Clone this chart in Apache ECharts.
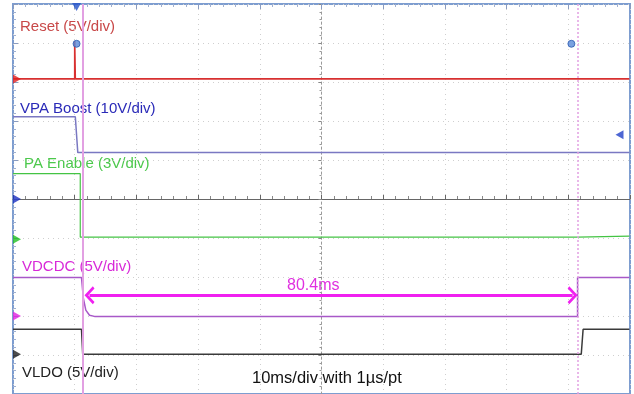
<!DOCTYPE html>
<html><head><meta charset="utf-8">
<script src="https://cdn.jsdelivr.net/npm/echarts@6/dist/echarts.min.js"></script>
<style>html,body{margin:0;padding:0;background:#fff}#c{width:634px;height:394px}</style>
</head><body><div id="c"></div>
<script>
// time in ms (relative to screen centre), amplitude in divisions
const reset   = [[-50,3.08],[-40.0,3.08],[-40.0,4.05],[-39.9,4.05],[-39.9,3.08],[49.9,3.08]];
const vpa     = [[-50,2.11],[-39.9,2.11],[-39.5,1.19],[49.9,1.19]];
const paEn    = [[-50,0.65],[-39.1,0.65],[-39.1,-0.98],[41.5,-0.98],[41.6,-0.95],[49.9,-0.95]];
const vdcdc   = [[-50,-2.01],[-38.9,-2.01],[-38.6,-2.54],[-38.2,-2.85],[-37.6,-2.98],[-36.8,-3.01],[41.5,-3.01],[41.5,-2.01],[49.9,-2.01]];
const vldo    = [[-50,-3.34],[-38.9,-3.34],[-38.7,-3.98],[42.1,-3.98],[42.4,-3.34],[49.9,-3.34]];
const cursors = [-38.75, 41.55];
const arrowSpan = [[-37.6,-2.47],[40.7,-2.47]];
const measureText = '80.4ms';
const chLabels = ['Reset (5V/div)','VPA Boost (10V/div)','PA Enable (3V/div)','VDCDC (5V/div)','VLDO (5V/div)'];
const timebaseText = '10ms/div with 1\u00b5s/pt';
const trigMarkers = [[-39.7,3.98],[40.5,3.98]];
const topTrig = [[-39.7,4.92]];
const gndMarkers = [[-50,3.08],[-50,0],[-50,-1.03],[-50,-3.0],[-50,-3.98]];
const rightMarker = [[48.3,1.65]];

const FONT = "'Liberation Sans Narrow','Liberation Sans',Arial,sans-serif";
const gndColors = ['#e02020','#1a2fc0','#20c020','#e020e0','#202020'];
const chart = echarts.init(document.getElementById('c'), null, {renderer:'canvas'});

const xCommon = {type:'value',min:-50,max:50,interval:10,axisLabel:{show:false}};
const yCommon = {type:'value',min:-5,max:5,interval:1,axisLabel:{show:false}};

chart.setOption({
  animation:false,
  backgroundColor:'#fff',
  grid:{left:13,top:4,width:617,height:392,show:true,borderColor:'#7d9dd0',borderWidth:2,backgroundColor:'#fff'},
  xAxis:[
    Object.assign({},xCommon,{position:'bottom',axisLine:{show:true,onZero:true,lineStyle:{color:'#666',width:1}},
      axisTick:{show:true,inside:true,length:4,lineStyle:{color:'#666'}},
      minorTick:{show:true,splitNumber:5,length:3,lineStyle:{color:'#888'}},
      splitLine:{show:true,lineStyle:{color:'#cfcfcf',type:[1,4]}}}),
    Object.assign({},xCommon,{position:'top',axisLine:{show:false,onZero:false},
      axisTick:{show:true,inside:true,length:5,lineStyle:{color:'#8a9cc0'}},
      minorTick:{show:true,splitNumber:5,length:3,lineStyle:{color:'#a0b0d0'}},
      splitLine:{show:false}})
  ],
  yAxis:[
    Object.assign({},yCommon,{position:'left',axisLine:{show:false,onZero:false},
      axisTick:{show:true,inside:true,length:5,lineStyle:{color:'#8a9cc0'}},
      minorTick:{show:true,splitNumber:5,length:3,lineStyle:{color:'#a0b0d0'}},
      splitLine:{show:true,lineStyle:{color:'#cfcfcf',type:[1,4]}}}),
    Object.assign({},yCommon,{position:'left',axisLine:{show:true,onZero:true,lineStyle:{color:'#9a9a9a',type:[2,3],width:1}},
      axisTick:{show:true,inside:false,length:3,lineStyle:{color:'#888'}},
      minorTick:{show:true,splitNumber:5,length:2,lineStyle:{color:'#999'}},
      splitLine:{show:false}})
  ],
  series:[
    {type:'line',data:[],markLine:{silent:true,symbol:'none',label:{show:false},
      data:[{xAxis:cursors[0],lineStyle:{color:'#e2a0e2',width:2,type:'solid'}},
            {xAxis:cursors[1],lineStyle:{color:'#e2a0e2',width:1.5,type:[2,2]}}]}},
    {type:'line',data:reset,symbol:'none',lineStyle:{color:'#d83030',width:1.6},z:3},
    {type:'line',data:vpa,symbol:'none',lineStyle:{color:'#7a78c2',width:1.5},z:3},
    {type:'line',data:paEn,symbol:'none',lineStyle:{color:'#44c444',width:1.2},z:3},
    {type:'line',data:vdcdc,symbol:'none',lineStyle:{color:'#a858c8',width:1.5},z:3},
    {type:'line',data:vldo,symbol:'none',lineStyle:{color:'#3a3a3a',width:1.5},z:3},
    {type:'line',data:[],z:4,markLine:{silent:true,
      symbol:['path://M0,10 L10,0 L20,10 L17.5,12 L10,4.5 L2.5,12 Z','path://M0,10 L10,0 L20,10 L17.5,12 L10,4.5 L2.5,12 Z'],
      symbolSize:[18,10],label:{show:false},lineStyle:{color:'#f020f0',width:3,type:'solid'},
      data:[[{coord:arrowSpan[0]},{coord:arrowSpan[1]}]]}},
    {type:'scatter',data:trigMarkers,symbol:'circle',symbolSize:7,itemStyle:{color:'#5a8ad8',borderColor:'#2a5ab0',borderWidth:1},z:5},
    {type:'scatter',data:topTrig,symbol:'triangle',symbolSize:[9,8],symbolRotate:180,itemStyle:{color:'#2050c8'},z:5},
    {type:'scatter',data:gndMarkers,symbol:'triangle',symbolSize:[9,8],symbolRotate:-90,symbolOffset:[4,0],
      itemStyle:{color:function(p){return gndColors[p.dataIndex];}},z:6},
    {type:'scatter',data:rightMarker,symbol:'triangle',symbolSize:[9,8],symbolRotate:90,itemStyle:{color:'#2040c8'},z:5}
  ],
  graphic:[
    {type:'text',left:20,top:19,style:{text:chLabels[0],fill:'#c84848',font:'15px '+FONT}},
    {type:'text',left:20,top:101,style:{text:chLabels[1],fill:'#2a2ab8',font:'15px '+FONT}},
    {type:'text',left:24,top:156,style:{text:chLabels[2],fill:'#4cc84c',font:'15px '+FONT}},
    {type:'text',left:22,top:259,style:{text:chLabels[3],fill:'#d828d8',font:'15px '+FONT}},
    {type:'text',left:22,top:365,style:{text:chLabels[4],fill:'#222',font:'15px '+FONT}},
    {type:'text',left:287,top:278,style:{text:measureText,fill:'#e030e0',font:'16px '+FONT}},
    {type:'text',left:252,top:370,style:{text:timebaseText,fill:'#111',font:'16.5px '+FONT}}
  ]
});
</script></body></html>
